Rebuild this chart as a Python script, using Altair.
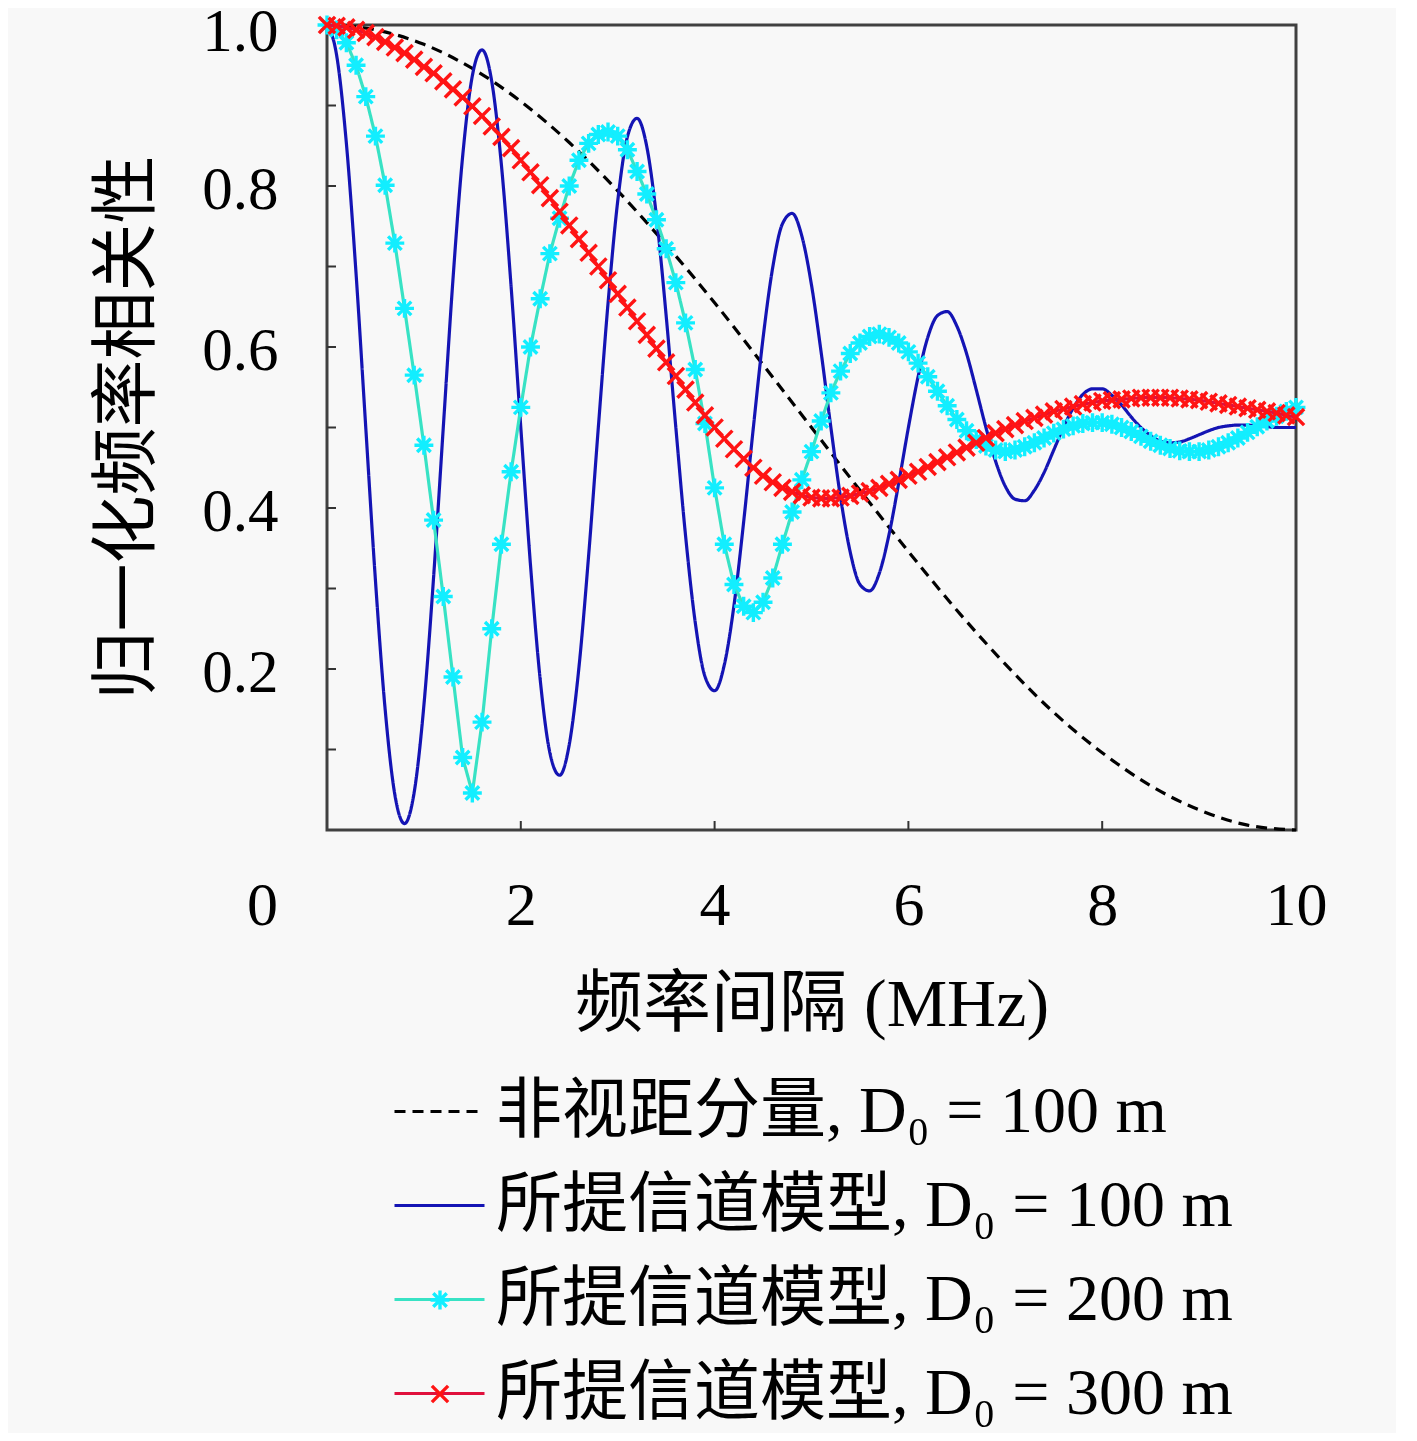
import altair as alt
import pandas as pd

FONT = "'Liberation Serif', 'Noto Sans CJK SC'"

# x grids
X01 = [i / 10 for i in range(101)]
X05 = [i / 2 for i in range(21)]

# values
DASHED = [1.000, 0.994, 0.976, 0.946, 0.905, 0.854, 0.794, 0.727, 0.655, 0.578,
          0.500, 0.422, 0.346, 0.273, 0.206, 0.146, 0.096, 0.055, 0.025, 0.006, 0.000]

BLUE = [1.000, 0.962, 0.853, 0.691, 0.500, 0.310, 0.150, 0.044, 0.008, 0.047, 0.155, 0.314, 0.500, 0.684, 0.837, 0.937,
        0.969, 0.930, 0.826, 0.675, 0.500, 0.329, 0.187, 0.096, 0.068, 0.106, 0.202, 0.341, 0.500, 0.654, 0.781, 0.861,
        0.884, 0.849, 0.762, 0.639, 0.500, 0.366, 0.258, 0.191, 0.173, 0.205, 0.279, 0.383, 0.500, 0.611, 0.699, 0.753,
        0.766, 0.738, 0.677, 0.593, 0.500, 0.413, 0.345, 0.305, 0.297, 0.319, 0.367, 0.431, 0.500, 0.563, 0.612, 0.639,
        0.644, 0.626, 0.592, 0.547, 0.500, 0.458, 0.427, 0.411, 0.409, 0.422, 0.444, 0.472, 0.500, 0.524, 0.541, 0.548,
        0.548, 0.540, 0.528, 0.513, 0.500, 0.490, 0.483, 0.481, 0.482, 0.486, 0.491, 0.496, 0.500, 0.502, 0.503, 0.503,
        0.502, 0.501, 0.500, 0.500, 0.500]

CYAN = [1.000, 0.994, 0.978, 0.950, 0.911, 0.862, 0.801, 0.729, 0.648, 0.565,
        0.478, 0.385, 0.290, 0.190, 0.090, 0.046, 0.134, 0.250, 0.355, 0.445,
        0.525, 0.600, 0.660, 0.716, 0.760, 0.800, 0.832, 0.853, 0.864, 0.867,
        0.862, 0.845, 0.818, 0.790, 0.758, 0.722, 0.680, 0.630, 0.572, 0.505,
        0.425, 0.355, 0.305, 0.278, 0.270, 0.283, 0.313, 0.355, 0.395, 0.435,
        0.470, 0.508, 0.543, 0.570, 0.592, 0.605, 0.613, 0.616, 0.612, 0.605,
        0.594, 0.580, 0.563, 0.545, 0.527, 0.510, 0.496, 0.485, 0.477, 0.472,
        0.470, 0.472, 0.476, 0.481, 0.487, 0.493, 0.498, 0.502, 0.505, 0.506,
        0.506, 0.504, 0.500, 0.495, 0.489, 0.483, 0.478, 0.474, 0.471, 0.470,
        0.470, 0.472, 0.476, 0.481, 0.487, 0.494, 0.501, 0.508, 0.514, 0.520,
        0.525]

RED = [1.000, 0.999, 0.997, 0.994, 0.990, 0.985, 0.979, 0.972, 0.965, 0.957,
       0.948, 0.940, 0.930, 0.920, 0.910, 0.899, 0.887, 0.874, 0.861, 0.847,
       0.832, 0.817, 0.801, 0.785, 0.768, 0.751, 0.734, 0.717, 0.700, 0.683,
       0.666, 0.649, 0.632, 0.615, 0.598, 0.581, 0.564, 0.547, 0.531, 0.515,
       0.500, 0.486, 0.473, 0.461, 0.450, 0.440, 0.432, 0.425, 0.420, 0.416,
       0.413, 0.412, 0.412, 0.413, 0.415, 0.418, 0.421, 0.425, 0.430, 0.435,
       0.440, 0.445, 0.451, 0.457, 0.463, 0.469, 0.475, 0.481, 0.487, 0.493,
       0.498, 0.503, 0.508, 0.512, 0.516, 0.520, 0.523, 0.526, 0.529, 0.531,
       0.533, 0.534, 0.535, 0.536, 0.537, 0.537, 0.537, 0.537, 0.536, 0.535,
       0.534, 0.532, 0.530, 0.528, 0.526, 0.524, 0.522, 0.520, 0.518, 0.515,
       0.513]

LABELS = ["非视距分量, D₀ = 100 m", "所提信道模型, D₀ = 100 m",
          "所提信道模型, D₀ = 200 m", "所提信道模型, D₀ = 300 m"]
MK = [lab + " " for lab in LABELS]

LINE_COLORS = ["#000000", "#1414b4", "#38e2c4", "#e0103c"]
MARK_COLORS = ["#000000", "#000000", "#12eeff", "#ff1414"]
DASHES = [[11, 7], [1, 0], [1, 0], [1, 0]]
STAR = ("M-0.21,0L0.21,0M0,-0.21L0,0.21M-0.15,-0.15L0.15,0.15"
        "M-0.15,0.15L0.15,-0.15")
XMARK = "M-0.18,-0.18L0.18,0.18M-0.18,0.18L0.18,-0.18"
MARK_PATHS = ["M0,0", "M0,0", STAR, XMARK]

Y_LABELED = [0.2, 0.4, 0.6, 0.8, 1.0]
X_LABELED = [0, 2, 4, 6, 8, 10]
Y_MINOR = [0.1, 0.2, 0.3, 0.4, 0.5, 0.6, 0.7, 0.8, 0.9]
X_MINOR = [2, 4, 6, 8]

rows = []
for xs_, ys_, i in [(X05, DASHED, 0), (X01, BLUE, 1), (X01, CYAN, 2), (X01, RED, 3)]:
    for xv, yv in zip(xs_, ys_):
        rows.append({"x": xv, "y": yv, "s": LABELS[i], "mk": MK[i]})
df = pd.DataFrame(rows)

xs = alt.Scale(domain=[0, 10], nice=False, zero=False)
ysc = alt.Scale(domain=[0, 1], nice=False, zero=False)

x_axis = alt.Axis(
    title="频率间隔 (MHz)", values=X_LABELED, format="d", grid=False, ticks=False,
    tickSize=0, domain=False, labelFontSize=62, labelFont=FONT, labelColor="#000",
    labelBaseline="middle", labelPadding=75, labelFlush=False, labelOverlap=False,
    labelOffset={"condition": {"test": "datum.value === 0", "value": -65}, "value": 0},
    titleFontSize=68, titleFont=FONT, titleFontWeight="normal", titleColor="#000",
    titleY=175, titleBaseline="middle",
)
y_axis = alt.Axis(
    title="归一化频率相关性", values=Y_LABELED, format=".1f", grid=False, ticks=False,
    tickSize=0, domain=False, labelFontSize=61, labelFont=FONT, labelColor="#000",
    labelAlign="right", labelBaseline="middle", labelPadding=49, labelFlush=False,
    labelOverlap=False,
    labelOffset={"condition": {"test": "datum.value === 1", "value": 7}, "value": 4},
    titleFontSize=68, titleFont=FONT, titleFontWeight="normal", titleColor="#000",
    titleAngle=270, titleX=-165, titleY=402, titleBaseline="bottom", titleAlign="center",
)

legA = dict(orient="none", legendX=66, legendY=1040, title=None, symbolType="stroke",
            symbolSize=8100, symbolStrokeWidth=3, labelFontSize=66, labelFont=FONT,
            labelColor="#000", labelOffset=10, rowPadding=14, padding=0, labelLimit=0)
legB = dict(orient="none", legendX=66, legendY=1040, title=None,
            symbolSize=8100, symbolStrokeWidth=3.4, labelFontSize=66, labelFont=FONT,
            labelOpacity=0, labelOffset=10, rowPadding=14, padding=0, labelLimit=0,
            symbolFillColor="transparent")

color = alt.Color("s:N", scale=alt.Scale(domain=LABELS, range=LINE_COLORS),
                  legend=alt.Legend(**legA))
dash = alt.StrokeDash("s:N", scale=alt.Scale(domain=LABELS, range=DASHES),
                      legend=alt.Legend(**legA))

X = alt.X("x:Q", scale=xs, axis=x_axis)
Y = alt.Y("y:Q", scale=ysc, axis=y_axis)


def line_layer(i, interp):
    return alt.Chart(df).transform_filter(alt.datum.s == LABELS[i]).mark_line(
        interpolate=interp, strokeWidth=3.2
    ).encode(x=X, y=Y, color=color, strokeDash=dash)


def point_layer(i):
    return alt.Chart(df).transform_filter(alt.datum.mk == MK[i]).mark_point(
        filled=False, size=8100, strokeWidth=3.4, opacity=1
    ).encode(
        x=X, y=Y,
        stroke=alt.Stroke("mk:N", scale=alt.Scale(domain=MK, range=MARK_COLORS),
                          legend=alt.Legend(**legB)),
        shape=alt.Shape("mk:N", scale=alt.Scale(domain=MK, range=MARK_PATHS),
                        legend=alt.Legend(**legB)),
    )


ytick = alt.Chart(pd.DataFrame({"y": Y_MINOR})).mark_rule(
    color="#333333", strokeWidth=2
).encode(y=Y, x=alt.value(0), x2=alt.value(9))

xtick = alt.Chart(pd.DataFrame({"x": X_MINOR})).mark_rule(
    color="#333333", strokeWidth=2
).encode(x=X, y=alt.value(805), y2=alt.value(796))

chart = alt.layer(
    line_layer(0, "monotone"),
    ytick,
    xtick,
    line_layer(1, "monotone"),
    line_layer(2, "linear"),
    point_layer(2),
    line_layer(3, "linear"),
    point_layer(3),
).properties(
    width=969, height=805,
    autosize=alt.AutoSizeParams(type="none"),
    padding={"left": 319, "top": 17, "right": 100, "bottom": 603},
    background="#f8f8f8",
).configure(
    font=FONT
).configure_view(
    stroke="#404040", strokeWidth=3, fill="#f8f8f8"
)

chart.save("out.html", embed_options={"renderer": "svg", "actions": False})
